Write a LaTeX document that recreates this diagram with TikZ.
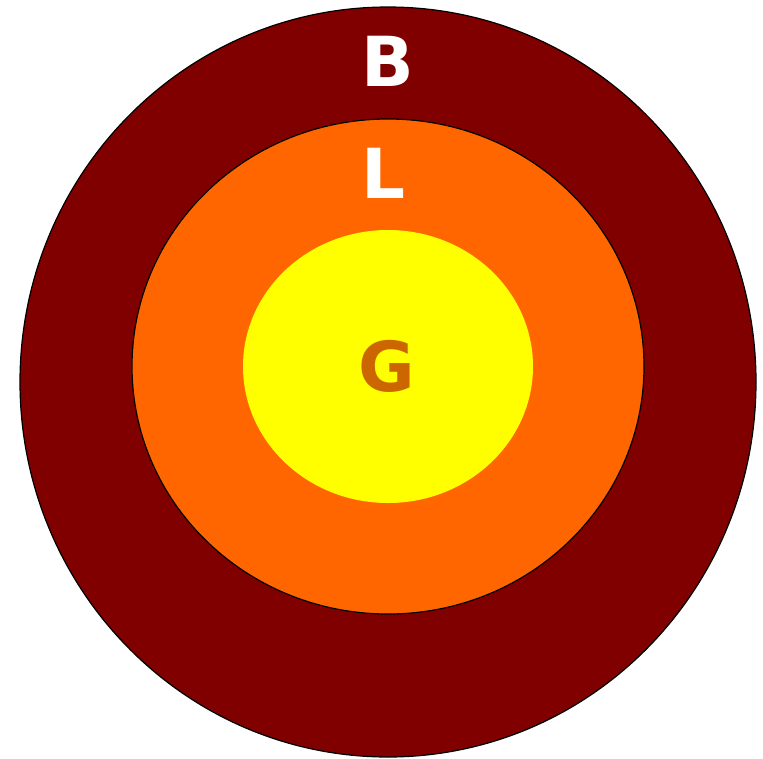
\documentclass[tikz,border=0pt]{standalone}
\usepackage{fontspec}
\newfontfamily\lblfont{DejaVu Sans}
\definecolor{outerc}{HTML}{800000}
\definecolor{midc}{HTML}{FF6600}
\definecolor{innerc}{HTML}{FFFF00}
\definecolor{gtext}{HTML}{CC6600}
\begin{document}
\begin{tikzpicture}[x=1pt,y=-1pt,
  lbl/.style={font=\lblfont\bfseries\fontsize{69}{69}\selectfont, inner sep=0pt, anchor=base}]
\useasboundingbox (0,0) rectangle (763,758);
\path[fill=outerc, draw=black, line width=1.2pt] (388,382) ellipse [x radius=368, y radius=375];
\path[fill=midc, draw=black, line width=1.2pt] (388,366.5) ellipse [x radius=256, y radius=247.5];
\path[fill=innerc] (388,366.5) ellipse [x radius=145, y radius=136.5];
\node[lbl, text=white] (b) at (388,86) {B};
\node[lbl, text=white] (l) at (383.5,198) {L};
\node[lbl, text=gtext] (g) at (387,391) {G};
\end{tikzpicture}
\end{document}
